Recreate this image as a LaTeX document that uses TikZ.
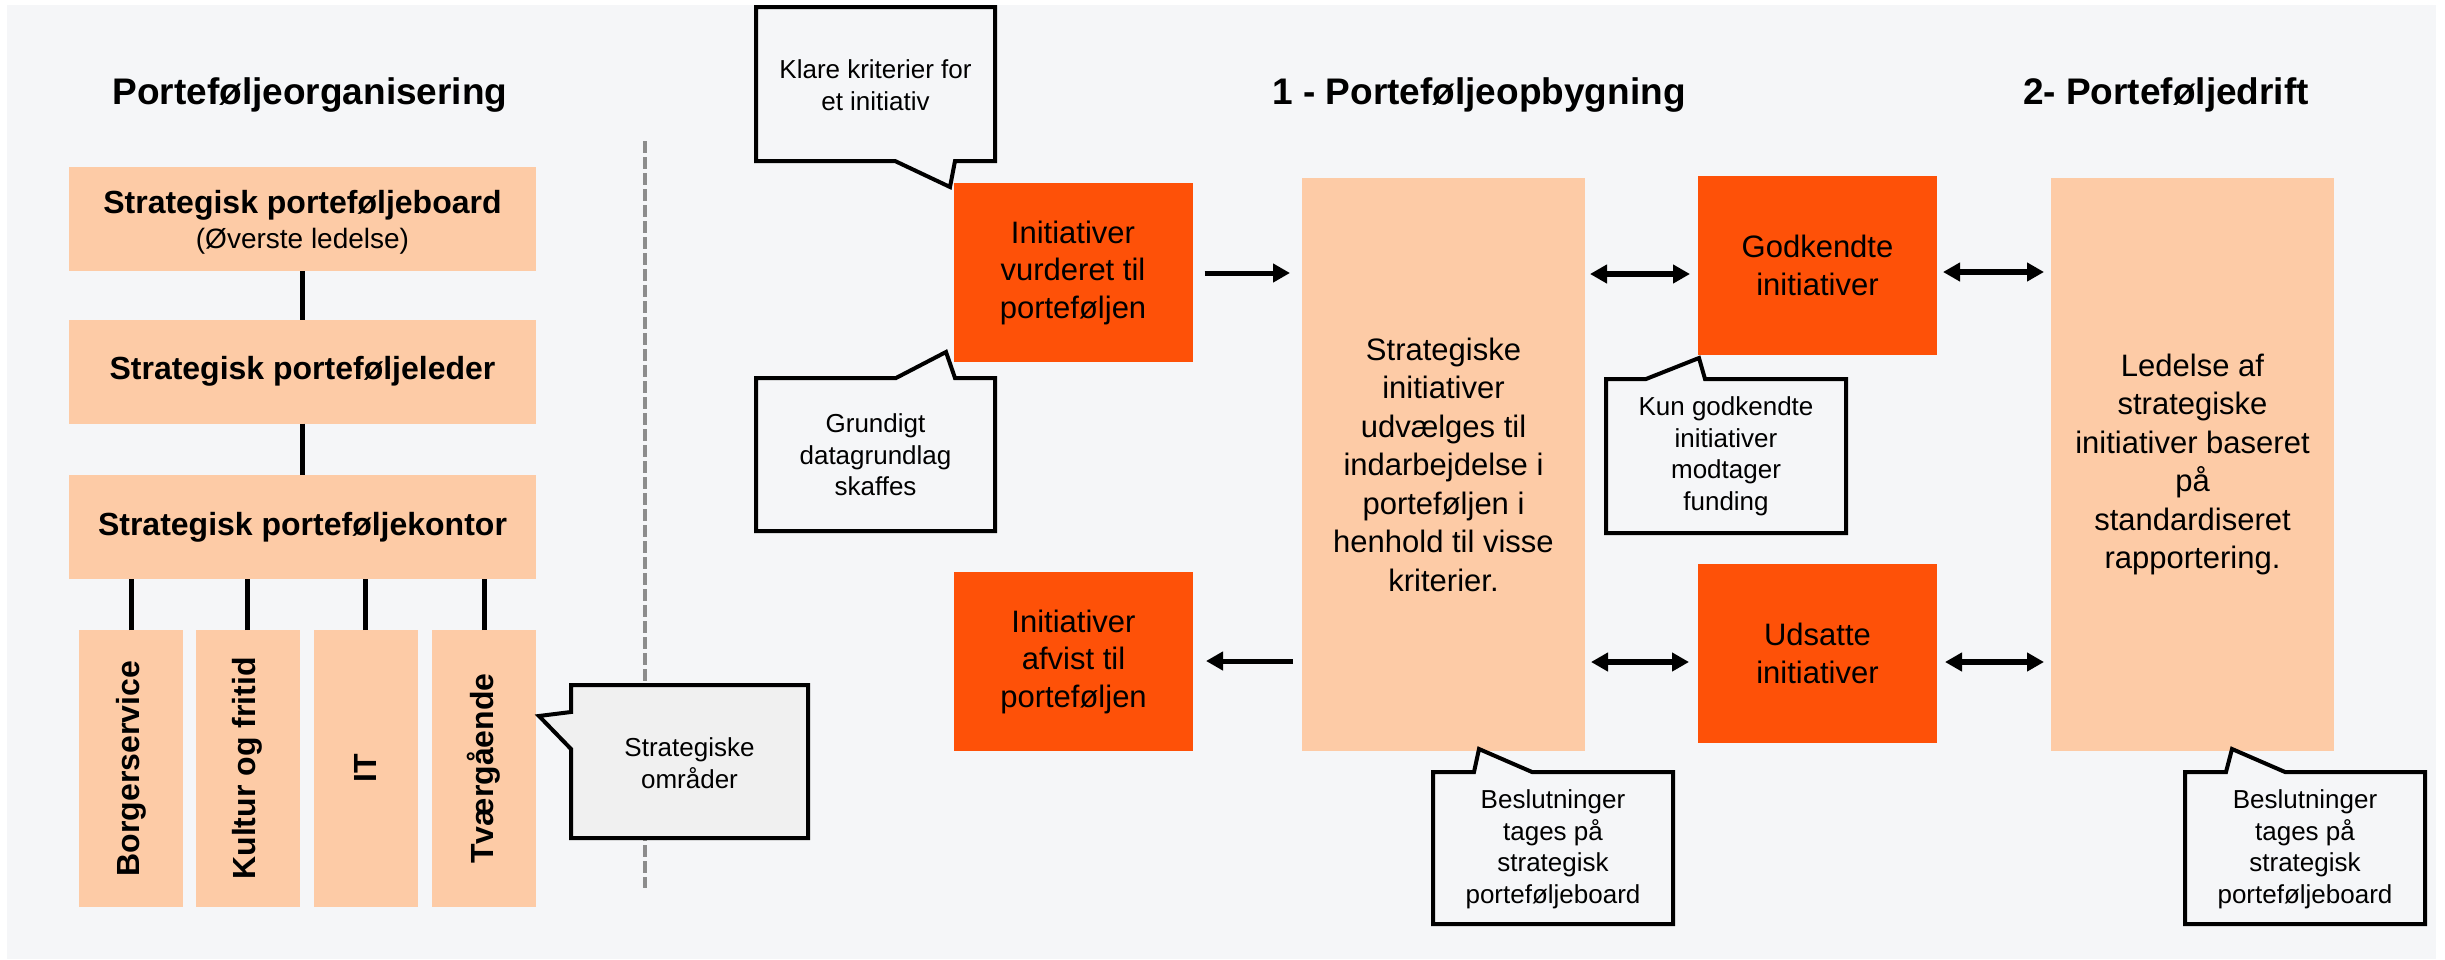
\documentclass[tikz,border=0pt]{standalone}
\usepackage{fontspec}
\setmainfont{Liberation Sans}
\usetikzlibrary{arrows.meta}
\definecolor{bgc}{HTML}{F5F6F8}
\definecolor{peach}{HTML}{FDCBA6}
\definecolor{orng}{HTML}{FE5108}
\definecolor{cgrey}{HTML}{F0F0F0}
\definecolor{dashc}{HTML}{8C8C8C}
\begin{document}
\begin{tikzpicture}[x=1pt,y=-1pt,
  peachbox/.style={fill=peach, draw=none, inner sep=0pt, outer sep=0pt, align=center},
  orbox/.style={fill=orng, draw=none, inner sep=0pt, outer sep=0pt, align=center,
    font=\fontsize{31}{37.5}\selectfont, minimum width=239pt, minimum height=179pt},
  bigbox/.style={peachbox, font=\fontsize{31}{38.5}\selectfont, minimum width=283pt, minimum height=573pt},
  orgbox/.style={peachbox, font=\fontsize{32}{36}\selectfont\bfseries, minimum width=467pt, minimum height=104pt},
  areabox/.style={peachbox, minimum width=104pt, minimum height=277pt},
  areatext/.style={rotate=90, inner sep=0pt, font=\fontsize{32}{36}\selectfont\bfseries},
  ttl/.style={font=\fontsize{37}{44}\selectfont\bfseries, inner sep=0pt, anchor=base},
  conn/.style={line width=5pt},
  arr/.style={line width=5pt, -{Triangle[length=17pt,width=18pt]}},
  darr/.style={line width=5.5pt, {Triangle[length=17pt,width=18pt]}-{Triangle[length=17pt,width=18pt]}},
  callout/.style={draw=black, line width=4pt, fill=bgc, line join=miter},
  ctext/.style={align=center, inner sep=0pt, font=\fontsize{26}{31.5}\selectfont},
]
% canvas
\fill[white] (0,0) rectangle (2445,959);
\useasboundingbox (0,0) rectangle (2445,959);
\fill[bgc] (7,5) rectangle (2436,959);

% ---------- left: organisation ----------
\node[ttl] (t1) at (310,104) {Porteføljeorganisering};
\node[orgbox] (board) at (302.5,219) {};
\node[inner sep=0pt, align=center, font=\fontsize{32}{36}\selectfont\bfseries] (boardt) at (302.5,222) {Strategisk porteføljeboard\\[-1pt]{\fontsize{28}{36}\selectfont\mdseries (Øverste ledelse)}};
\node[orgbox] (leder) at (302.5,371.5) {Strategisk porteføljeleder};
\node[orgbox] (kontor) at (302.5,527) {Strategisk porteføljekontor};
\draw[conn] (board.south) -- (leder.north);
\draw[conn] (leder.south) -- (kontor.north);

\node[areabox] (a1) at (131,768.5) {};
\node[areabox] (a2) at (247.5,768.5) {};
\node[areabox] (a3) at (365.5,768.5) {};
\node[areabox] (a4) at (484,768.5) {};
\node[areatext] (a1t) at (a1.center) {Borgerservice};
\node[areatext] (a2t) at (a2.center) {Kultur og fritid};
\node[areatext] (a3t) at (a3.center) {IT};
\node[areatext] (a4t) at (a4.center) {Tværgående};
\foreach \n in {a1,a2,a3,a4}{
  \draw[conn] (\n.north) -- (\n.north |- kontor.south);
}

% dashed divider
\coordinate (d1) at (645,141);
\coordinate (d2) at (645,888);
\draw[dashc, line width=4pt, dash pattern=on 12pt off 4pt] (d1) -- (d2);

% callout: strategiske omraader
\draw[callout, fill=cgrey] (571,685) -- (808,685) -- (808,838) -- (571,838) -- (571,749) -- (539,716) -- (571,712) -- cycle;
\node[ctext] (omr) at (689.5,763) {Strategiske\\områder};

% ---------- middle: portefoeljeopbygning ----------
\node[ttl] (t2) at (1479,104) {1 - Porteføljeopbygning};

\draw[callout] (756,7) -- (995,7) -- (995,161) -- (955,161) -- (950,187) -- (895,161) -- (756,161) -- cycle;
\node[ctext] (klare) at (875.5,85) {Klare kriterier for\\et initiativ};

\node[orbox] (vurd) at (1073,272.5) {Initiativer\\vurderet til\\porteføljen};

\draw[callout] (756,378) -- (896,378) -- (946,352) -- (955,378) -- (995,378) -- (995,531) -- (756,531) -- cycle;
\node[ctext] (grund) at (875.5,455) {Grundigt\\datagrundlag\\skaffes};

\node[orbox] (afvist) at (1073.5,661.5) {Initiativer\\afvist til\\porteføljen};

\node[bigbox] (big1) at (1443.5,464.5) {Strategiske\\initiativer\\udvælges til\\indarbejdelse i\\porteføljen i\\henhold til visse\\kriterier.};

\draw[arr] ([xshift=12pt]vurd.east |- 0,273) -- ([xshift=-12pt]big1.west |- 0,273);
\draw[arr] ([xshift=-9pt]big1.west |- 0,661) -- ([xshift=13pt]afvist.east |- 0,661);

\node[orbox] (godk) at (1817.5,265.5) {Godkendte\\initiativer};
\node[orbox] (uds) at (1817.5,653.5) {Udsatte\\initiativer};

\draw[darr] ([xshift=5pt]big1.east |- 0,274) -- ([xshift=-8pt]godk.west |- 0,274);
\draw[darr] ([xshift=6pt]big1.east |- 0,662) -- ([xshift=-9pt]uds.west |- 0,662);

\draw[callout] (1606,379) -- (1646,379) -- (1699,358) -- (1705,379) -- (1846,379) -- (1846,533) -- (1606,533) -- cycle;
\node[ctext] (kun) at (1726,456.5) {Kun godkendte\\initiativer\\modtager\\funding};

\draw[callout] (1433,772) -- (1474,772) -- (1479,749) -- (1532,772) -- (1673,772) -- (1673,924) -- (1433,924) -- cycle;
\node[ctext] (besl1) at (1553,849.5) {Beslutninger\\tages på\\strategisk\\porteføljeboard};

% ---------- right: portefoeljedrift ----------
\node[ttl] (t3) at (2166,104) {2- Porteføljedrift};
\node[bigbox] (big2) at (2192.5,464.5) {Ledelse af\\strategiske\\initiativer baseret\\på\\standardiseret\\rapportering.};

\draw[darr] ([xshift=6pt]godk.east |- 0,272) -- ([xshift=-7pt]big2.west |- 0,272);
\draw[darr] ([xshift=8pt]uds.east |- 0,662) -- ([xshift=-7pt]big2.west |- 0,662);

\draw[callout] (2185,772) -- (2226,772) -- (2232,749) -- (2285,772) -- (2425,772) -- (2425,924) -- (2185,924) -- cycle;
\node[ctext] (besl2) at (2305,849.5) {Beslutninger\\tages på\\strategisk\\porteføljeboard};
\end{tikzpicture}
\end{document}
